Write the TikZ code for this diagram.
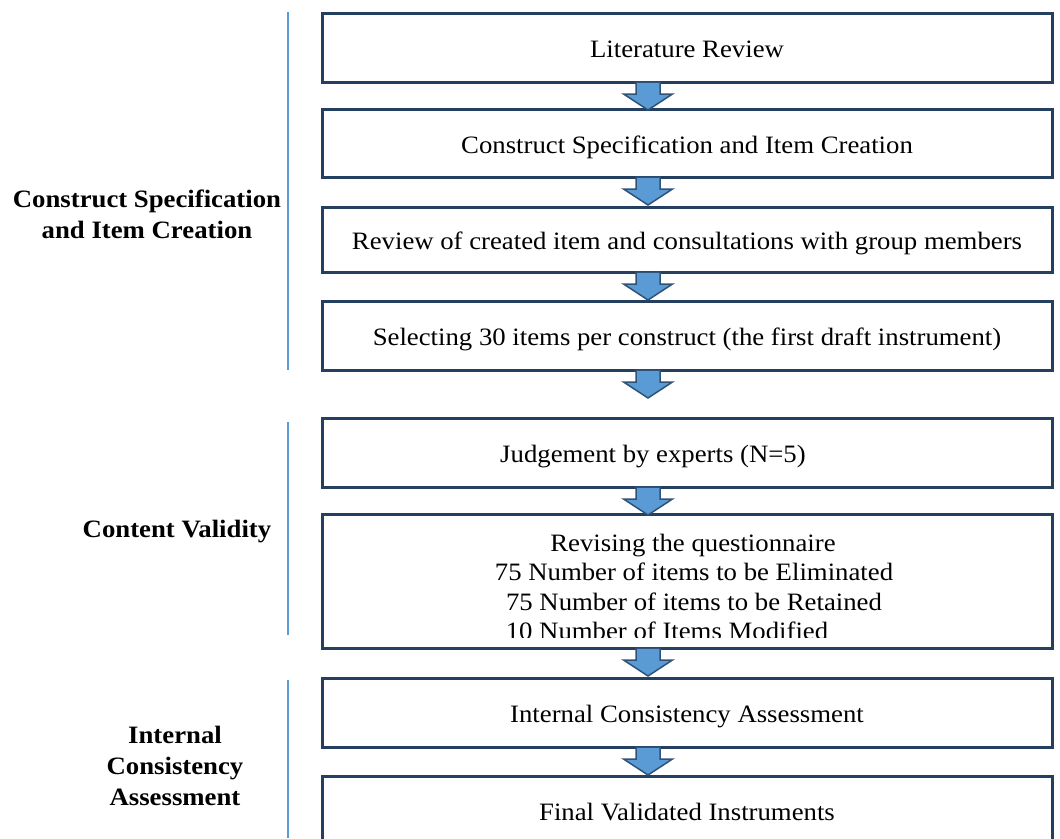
\documentclass[tikz,border=0pt]{standalone}
\usepackage{fontspec}
\setmainfont{Liberation Serif}[FakeStretch=1.07]
\usetikzlibrary{positioning, calc}
\definecolor{boxline}{HTML}{243F60}
\definecolor{arrowfill}{HTML}{5B9BD5}
\definecolor{arrowline}{HTML}{2F5276}
\definecolor{sideline}{HTML}{5B9BD5}
\tikzset{
        steptext/.style={font=\fontsize{25}{27}\selectfont, inner sep=0pt,
                text height=22pt, text depth=2pt},
        stepbox/.style={steptext, draw=boxline, line width=3pt, minimum width=730pt,
                outer sep=0pt},
        phase/.style={align=center, font=\fontsize{25}{31}\selectfont\bfseries},
        blockarrow/.style={fill=arrowfill, draw=arrowline, line width=1.5pt, line join=miter},
        groupline/.style={draw=sideline, line width=2.5pt}
        }
% block arrow hanging under a box
\newcommand{\downblock}[1]{%
  \filldraw[blockarrow] ($(#1.south)+(-51,0)$) -- ++(0,12) -- ++(-12.5,0)
        -- ++(24.5,16) -- ++(24.5,-16) -- ++(-12.5,0) -- ++(0,-12) -- cycle;}

\begin{document}
\begin{tikzpicture}[x=1pt, y=-1pt]
        \clip (0,0) rectangle (1060,838);

        % steps
        \node[stepbox, minimum height=69pt] (b1) at (687,47.5) {Literature Review};
        \node[stepbox, minimum height=68pt, below=27pt of b1] (b2) {Construct Specification and Item Creation};
        \node[stepbox, minimum height=65pt, below=30pt of b2] (b3) {Review of created item and consultations with group members};
        \node[stepbox, minimum height=69pt, below=29pt of b3] (b4) {Selecting 30 items per construct (the first draft instrument)};
        \node[stepbox, minimum height=69pt, below=48pt of b4,
              label={[steptext, xshift=-34pt]center:Judgement by experts (N=5)}] (b5) {};
        \node[stepbox, minimum height=134pt, below=27pt of b5] (b6) {};
        \node[stepbox, minimum height=69pt, below=30pt of b6] (b7) {Internal Consistency Assessment};
        \node[stepbox, minimum height=69pt, below=29pt of b7] (b8) {Final Validated Instruments};

        \begin{scope}
          \clip (b6.north west) rectangle (1052,637);
          \foreach \txt/\dx [count=\i] in {Revising the questionnaire/6, 75 Number of items to be Eliminated/7,
                  75 Number of items to be Retained/7, 10 Number of Items Modified/-20}
            \node[font=\fontsize{25}{27}\selectfont, inner sep=0pt, anchor=base] (r\i)
                  at ($(b6.north)+(\dx,7.5+29.5*\i)$) {\txt};
        \end{scope}

        \foreach \b in {b1,b2,b3,b4,b5,b6,b7}{\downblock{\b}}

        % phases
        \draw[groupline] (288,12) -- (288,370);
        \draw[groupline] (288,422) -- (288,635);
        \draw[groupline] (288,680) -- (288,838);
        \node[phase] (p1) at (147,214) {Construct Specification\\and Item Creation};
        \node[phase, anchor=base] (p2) at (177,537) {Content Validity};
        \node[phase] (p3) at (175,766) {Internal\\Consistency\\Assessment};
\end{tikzpicture}
\end{document}
